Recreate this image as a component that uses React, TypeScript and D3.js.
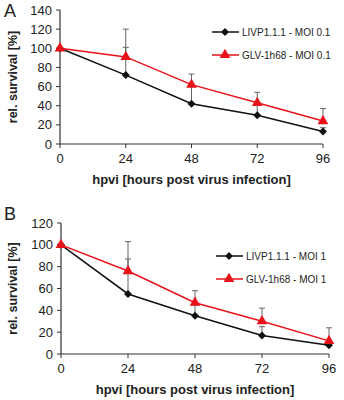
import * as d3 from "d3";

// hours post virus infection
const hours = [0, 24, 48, 72, 96];

// Panel A: MOI 0.1
const livpA = [100, 72, 42, 30, 13];
const livpErrA = [0, 29, 20, 12, 4];
const glvA = [100, 91, 62, 43, 24];
const glvErrA = [0, 29, 11, 11, 13];

// Panel B: MOI 1
const livpB = [100, 55, 35, 17, 8];
const livpErrB = [0, 32, 10, 8, 3];
const glvB = [100, 76, 47, 30, 12];
const glvErrB = [0, 27, 11, 12, 12];

const RED = "#e8121a";
const FONT = "'Liberation Sans', Arial, sans-serif";

type PanelProps = {
  letter: string;
  top: number;
  yMax: number;
  yTicks: number[];
  x0: number;
  x1: number;
  y0: number;
  y1: number;
  black: number[];
  blackErr: number[];
  red: number[];
  redErr: number[];
  legendBlack: string;
  legendRed: string;
  legendX: number;
  legendY: number;
};

function Panel(p: PanelProps) {
  const x = d3.scalePoint<number>().domain(hours).range([p.x0, p.x1]);
  const y = d3.scaleLinear().domain([0, p.yMax]).range([p.y0, p.y1]);
  const line = d3
    .line<number>()
    .x((_, i) => x(hours[i])!)
    .y((d) => y(d));
  const diamond = d3.symbol(d3.symbolDiamond2, 40)()!;
  const triangle = d3.symbol(d3.symbolTriangle, 50)()!;

  const errBars = (vals: number[], errs: number[], key: string) =>
    vals.map((v, i) =>
      errs[i] > 0 ? (
        <g key={key + i} stroke="#666" strokeWidth={1}>
          <line x1={x(hours[i])} x2={x(hours[i])} y1={y(v)} y2={y(v + errs[i])} />
          <line x1={x(hours[i])! - 3} x2={x(hours[i])! + 3} y1={y(v + errs[i])} y2={y(v + errs[i])} />
        </g>
      ) : null
    );

  const midY = (p.y0 + p.y1) / 2;
  const midX = (p.x0 + p.x1) / 2;

  return (
    <g>
      <text x={4} y={p.top + 17} fontFamily={FONT} fontSize={18} fill="#222">
        {p.letter}
      </text>
      <text
        transform={`translate(17,${midY}) rotate(-90)`}
        textAnchor="middle"
        fontFamily={FONT}
        fontWeight="bold"
        fontSize={12.5}
        fill="#222"
      >
        rel. survival [%]
      </text>
      {/* y axis */}
      <line x1={p.x0} x2={p.x0} y1={p.y1} y2={p.y0} stroke="#333" strokeWidth={1.2} />
      {p.yTicks.map((t) => (
        <g key={"y" + t}>
          <line x1={p.x0 - 4} x2={p.x0} y1={y(t)} y2={y(t)} stroke="#333" strokeWidth={1} />
          <text
            x={p.x0 - 8}
            y={y(t)}
            dy="0.35em"
            textAnchor="end"
            fontFamily={FONT}
            fontSize={13}
            fill="#222"
          >
            {t}
          </text>
        </g>
      ))}
      {/* x axis */}
      <line x1={p.x0} x2={p.x1} y1={p.y0} y2={p.y0} stroke="#333" strokeWidth={1.2} />
      {hours.map((h) => (
        <g key={"x" + h}>
          <line x1={x(h)} x2={x(h)} y1={p.y0} y2={p.y0 + 4} stroke="#333" strokeWidth={1} />
          <text
            x={x(h)}
            y={p.y0 + 19}
            textAnchor="middle"
            fontFamily={FONT}
            fontSize={13}
            fill="#222"
          >
            {h}
          </text>
        </g>
      ))}
      <text
        x={midX}
        y={p.y0 + 40}
        textAnchor="middle"
        fontFamily={FONT}
        fontWeight="bold"
        fontSize={13}
        fill="#222"
      >
        hpvi [hours post virus infection]
      </text>

      {errBars(p.black, p.blackErr, "eb")}
      {errBars(p.red, p.redErr, "er")}

      <path d={line(p.black)!} fill="none" stroke="#111" strokeWidth={1.5} />
      <path d={line(p.red)!} fill="none" stroke={RED} strokeWidth={1.5} />
      {p.black.map((v, i) => (
        <path key={"mb" + i} d={diamond} transform={`translate(${x(hours[i])},${y(v)})`} fill="#111" />
      ))}
      {p.red.map((v, i) => (
        <path key={"mr" + i} d={triangle} transform={`translate(${x(hours[i])},${y(v)})`} fill={RED} />
      ))}

      {/* legend */}
      <g fontFamily={FONT} fontSize={10} fill="#222">
        <line x1={p.legendX} x2={p.legendX + 27} y1={p.legendY} y2={p.legendY} stroke="#111" strokeWidth={1.5} />
        <path d={diamond} transform={`translate(${p.legendX + 13},${p.legendY})`} fill="#111" />
        <text x={p.legendX + 30} y={p.legendY} dy="0.35em">
          {p.legendBlack}
        </text>
        <line x1={p.legendX} x2={p.legendX + 27} y1={p.legendY + 23} y2={p.legendY + 23} stroke={RED} strokeWidth={1.5} />
        <path d={triangle} transform={`translate(${p.legendX + 13},${p.legendY + 23})`} fill={RED} />
        <text x={p.legendX + 30} y={p.legendY + 23} dy="0.35em">
          {p.legendRed}
        </text>
      </g>
    </g>
  );
}

export default function App() {
  return (
    <div style={{ position: "fixed", left: 0, top: 0, background: "#fff" }}>
      <svg width={344} height={400} style={{ display: "block" }}>
        <rect width={344} height={400} fill="#fff" />
        <Panel
          letter="A"
          top={0}
          yMax={140}
          yTicks={[0, 20, 40, 60, 80, 100, 120, 140]}
          x0={60}
          x1={323}
          y0={144}
          y1={10}
          black={livpA}
          blackErr={livpErrA}
          red={glvA}
          redErr={glvErrA}
          legendBlack="LIVP1.1.1 - MOI 0.1"
          legendRed="GLV-1h68 - MOI 0.1"
          legendX={212}
          legendY={32}
        />
        <Panel
          letter="B"
          top={203}
          yMax={120}
          yTicks={[0, 20, 40, 60, 80, 100, 120]}
          x0={61}
          x1={329}
          y0={354}
          y1={223}
          black={livpB}
          blackErr={livpErrB}
          red={glvB}
          redErr={glvErrB}
          legendBlack="LIVP1.1.1 - MOI 1"
          legendRed="GLV-1h68 - MOI 1"
          legendX={216}
          legendY={256}
        />
      </svg>
    </div>
  );
}
